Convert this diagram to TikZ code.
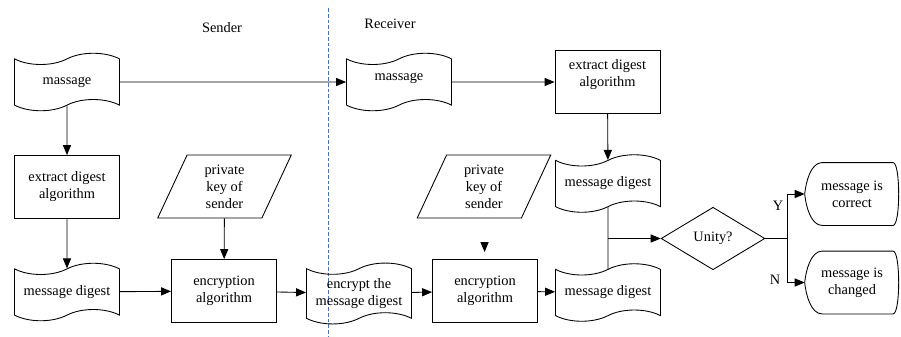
\documentclass[tikz,border=0pt]{standalone}
\usepackage{fontspec}
\setmainfont{Liberation Serif}
\usepackage{xcolor}
\usetikzlibrary{shapes.geometric, shapes.symbols, arrows.meta}

\definecolor{sideblue}{RGB}{68,114,196}

% outline of a display-like terminal box
\newcommand{\displayline}[1]{%
  \draw ([xshift=14pt]#1.north west) -- ([xshift=-5pt]#1.north east)
    .. controls ([xshift=1pt]#1.north east) and ([xshift=1pt]#1.south east) .. ([xshift=-5pt]#1.south east)
    -- ([xshift=14pt]#1.south west)
    .. controls ([xshift=5pt]#1.south west) and ([xshift=1pt,yshift=-10pt]#1.west) .. (#1.west)
    .. controls ([xshift=1pt,yshift=10pt]#1.west) and ([xshift=5pt]#1.north west) .. cycle;}

\begin{document}
\begin{tikzpicture}[x=0.8pt, y=-0.8pt, node distance=84pt, line width=0.7pt,
    font=\fontsize{11.5}{13.6}\selectfont]
		% Define styles for the blocks and arrows
		\tikzstyle{block} = [rectangle, draw, align=center, minimum width=84pt, minimum height=50.4pt]
		\tikzstyle{doc} = [tape, draw, align=center, tape bend height=9pt, minimum width=84pt, minimum height=46pt]
		\tikzstyle{keyin} = [trapezium, trapezium left angle=70, trapezium right angle=110, trapezium stretches=true, draw, align=center, minimum width=107pt, minimum height=50.4pt]
		\tikzstyle{decision} = [diamond, draw, minimum width=83pt, minimum height=50pt, inner sep=0pt]
		\tikzstyle{result} = [align=center, minimum width=75pt, minimum height=49.6pt]
		\tikzstyle{arrow} = [-{Triangle[length=8pt,width=6.5pt]}]
		\tikzstyle{border} = [draw=sideblue, line width=0.6pt, dash pattern=on 3pt off 1.6pt]

		\useasboundingbox (0,0) rectangle (901,336);

		% Sender and receiver sides
		\node (sender) at (222,28) {Sender};
		\node (receiver) at (390,24) {Receiver};
		\coordinate (topsplit) at (328,8);
		\coordinate (botsplit) at (328,336);
		\draw [border] (topsplit) -- (botsplit);

		% Sender blocks
		\node (msgS) [doc] at (67,82) {massage};
		\node (extS) [block, below of=msgS] {extract digest\\algorithm};
		\node (digS) [doc, below of=extS] {message digest};
		\node (pkS) [keyin] at (224.5,186.5) {private\\key of\\sender};
		\node (encS) [block] at (224,291) {encryption\\algorithm};
		\node (encMsg) [doc] at (359,293.5) {encrypt the\\message digest};

		% Receiver blocks
		\node (msgR) [doc, text depth=9pt] at (399,82) {massage};
		\node (extR) [block] at (607.5,82) {extract digest\\algorithm\\~};
		\node (pkR) [keyin] at (484,186.5) {private\\key of\\sender};
		\node (encR) [block] at (485,291) {encryption\\algorithm};
		\node (digR1) [doc] at (608,183.5) {message digest};
		\node (digR2) [doc] at (608,292.5) {message digest};
		\node (unity) [decision] at (713,238.5) {Unity?};
		\node (ok) [result] at (852,194) {message is\\correct};
		\node (bad) [result] at (852,282.5) {message is\\changed};
		\displayline{ok}
		\displayline{bad}
		\node (yes) at (778,206) {Y};
		\node (no) at (775,280) {N};

		% Draw arrows between the blocks
		\draw [arrow] (msgS) -- (msgR);
		\draw [arrow] (msgS) -- (extS);
		\draw [arrow] (extS) -- (digS);
		\draw [arrow] (digS) -- (encS);
		\draw [arrow] (pkS) -- (encS);
		\draw [arrow] (encS) -- (encMsg);
		\draw [arrow] (encMsg) -- (encR);
		\draw [arrow, shorten <=21pt, shorten >=5.6pt] (pkR) -- (encR);
		\draw [arrow] (encR) -- (digR2);
		\draw [arrow] (msgR) -- (extR);
		\draw [arrow] (extR) -- (digR1);
		\draw (digR1) -- (digR2);
		\coordinate (join) at (digR1.south |- unity.west);
		\draw [arrow] (join) -- (unity);
		\coordinate (fork) at (787,238.5);
		\draw (unity) -- (fork);
		\draw [arrow] (fork) |- (ok);
		\draw [arrow] (fork) |- (bad);
	\end{tikzpicture}
\end{document}
